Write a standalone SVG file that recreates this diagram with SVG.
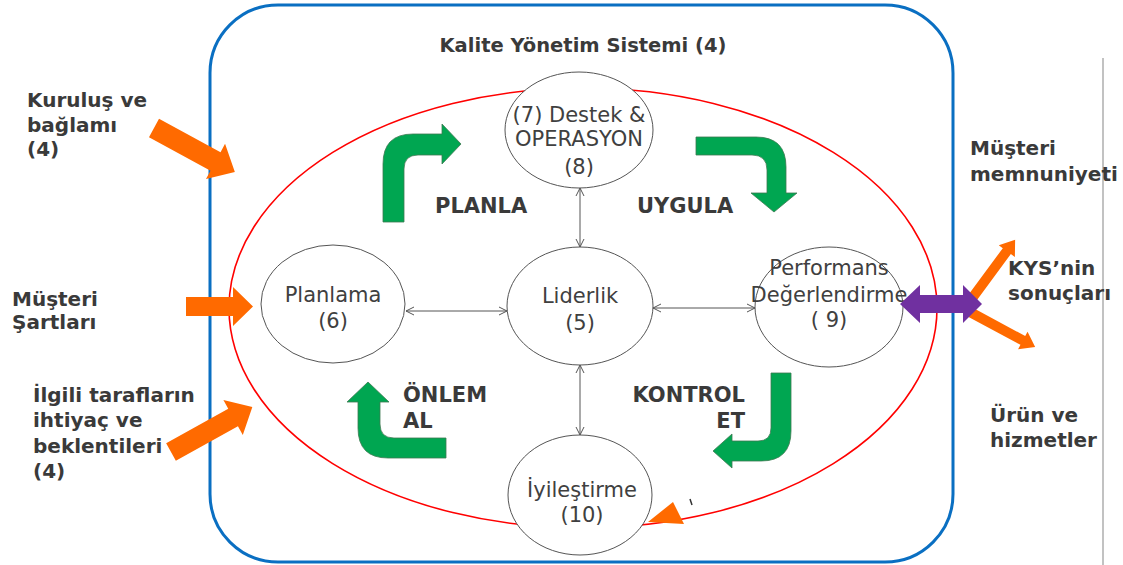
<svg xmlns="http://www.w3.org/2000/svg" width="1123" height="565" viewBox="0 0 1123 565">
<style>
.node{fill:#fff;stroke:#555;stroke-width:1}
.nt{font-family:"DejaVu Sans",sans-serif;font-size:21px;fill:#404040;text-anchor:middle}
.lbl{font-family:"DejaVu Sans",sans-serif;font-weight:bold;font-size:20px;fill:#3a3a3a}
.gl{font-family:"DejaVu Sans",sans-serif;font-weight:bold;font-size:21px;fill:#3a3a3a}
.conn{stroke:#555;stroke-width:1;fill:none;marker-start:url(#oa);marker-end:url(#oa)}
.green{fill:#00a651;stroke:#3d7a52;stroke-width:0.8}
.orange{fill:#ff6a00}
</style>
<defs>
<marker id="oa" viewBox="0 0 10 10" refX="9" refY="5" markerWidth="10" markerHeight="10" markerUnits="userSpaceOnUse" orient="auto-start-reverse">
<path d="M1,1 L9,5 L1,9" fill="none" stroke="#555" stroke-width="1"/>
</marker>
</defs>
<rect width="1123" height="565" fill="#fff"/>
<g id="frame">
<rect x="210" y="5" width="743" height="557" rx="68" ry="68" fill="none" stroke="#0a6fc2" stroke-width="3"/>
<text x="583" y="52" text-anchor="middle" font-family="DejaVu Sans, sans-serif" font-weight="bold" font-size="19.5" fill="#3a3a3a">Kalite Yönetim Sistemi (4)</text>
<ellipse cx="583" cy="308" rx="354" ry="220" fill="none" stroke="#ff0000" stroke-width="1.6"/>
<line x1="1103" y1="58" x2="1103" y2="565" stroke="#999" stroke-width="1.2"/>
</g>
<g id="inputs">
<polygon class="orange" points="0,-10.5 70,-10.5 70,-20 92,0 70,20 70,10.5 0,10.5" transform="translate(154,128) rotate(28.5)"/>
<polygon class="orange" points="186,297 233,297 233,287 253,306.5 233,326 233,316 186,316"/>
<polygon class="orange" points="0,-10 71,-10 71,-20 93,0 71,20 71,10 0,10" transform="translate(171,452) rotate(-29)"/>
<text class="lbl" x="27" y="107">Kuruluş ve</text>
<text class="lbl" x="27" y="132">bağlamı</text>
<text class="lbl" x="27" y="156">(4)</text>
<text class="lbl" x="12" y="306">Müşteri</text>
<text class="lbl" x="12" y="329">Şartları</text>
<text class="lbl" x="33" y="402">İlgili tarafların</text>
<text class="lbl" x="33" y="427">ihtiyaç ve</text>
<text class="lbl" x="33" y="453">beklentileri</text>
<text class="lbl" x="33" y="478">(4)</text>
</g>
<g id="outputs">
<polygon class="orange" points="0,-5 57,-5 57,-10 71,0 57,10 57,5 0,5" transform="translate(973,297) rotate(-53.6)"/>
<polygon class="orange" points="0,-5 60,-5 60,-10 74,0 60,10 60,5 0,5" transform="translate(970,312) rotate(28.3)"/>
<text class="lbl" x="970" y="155">Müşteri</text>
<text class="lbl" x="970" y="181">memnuniyeti</text>
<text class="lbl" x="1008" y="275">KYS’nin</text>
<text class="lbl" x="1008" y="300">sonuçları</text>
<text class="lbl" x="990" y="422">Ürün ve</text>
<text class="lbl" x="990" y="447">hizmetler</text>
</g>
<g id="connectors">
<line class="conn" x1="406" y1="311" x2="507" y2="311"/>
<line class="conn" x1="653" y1="308" x2="755" y2="308"/>
<line class="conn" x1="580" y1="188" x2="580" y2="247"/>
<line class="conn" x1="580" y1="365" x2="580" y2="435"/>
</g>
<g id="destek-operasyon">
<ellipse class="node" cx="579" cy="130" rx="74" ry="58"/>
<text class="nt" x="579" y="122">(7) Destek &amp;</text>
<text class="nt" x="579" y="146">OPERASYON</text>
<text class="nt" x="579" y="174">(8)</text>
</g>
<g id="liderlik">
<ellipse class="node" cx="580" cy="306" rx="73" ry="59"/>
<text class="nt" x="580" y="303">Liderlik</text>
<text class="nt" x="580" y="330">(5)</text>
</g>
<g id="planlama">
<ellipse class="node" cx="333" cy="304" rx="72" ry="59"/>
<text class="nt" x="333" y="302">Planlama</text>
<text class="nt" x="333" y="328">(6)</text>
</g>
<g id="performans">
<ellipse class="node" cx="829" cy="307" rx="74" ry="60"/>
<text class="nt" x="829" y="275">Performans</text>
<text class="nt" x="829" y="302">Değerlendirme</text>
<text class="nt" x="829" y="327">( 9)</text>
</g>
<g id="iyilestirme">
<ellipse class="node" cx="580" cy="495" rx="72" ry="60"/>
<text class="nt" x="582" y="497">İyileştirme</text>
<text class="nt" x="582" y="522">(10)</text>
<polygon class="orange" points="648,522 673,502 684,524"/>
<line x1="690" y1="499" x2="692" y2="505" stroke="#333" stroke-width="1.5"/>
</g>
<g id="cycle">
<path class="green" d="M383,222 L383,164 Q383,134 413,134 L442,134 L442,124 L461,144 L442,164 L442,155 L418,155 Q404,155 404,169 L404,222 Z"/>
<path class="green" d="M696,137 L756,137 Q786,137 786,167 L786,193 L797,193 L774,212 L751,193 L767,193 L767,170 Q767,155 752,155 L696,155 Z"/>
<path class="green" d="M771,373 L791,373 L791,431 Q791,461 761,461 L732,461 L732,468 L713,451 L732,434 L732,441 L758,441 Q771,441 771,428 Z"/>
<path class="green" d="M446,438 L446,458 L388,458 Q358,458 358,428 L358,402 L347,402 L368,382 L389,402 L380,402 L380,424 Q380,438 394,438 Z"/>
<text class="gl" x="435" y="213">PLANLA</text>
<text class="gl" x="637" y="213">UYGULA</text>
<text class="gl" x="403" y="402">ÖNLEM</text>
<text class="gl" x="403" y="428">AL</text>
<text class="gl" x="745" y="402" text-anchor="end">KONTROL</text>
<text class="gl" x="745" y="428" text-anchor="end">ET</text>
</g>
<g id="kys-results">
<polygon points="900,304 920,285 920,295 963,295 963,285 982,304 963,323 963,313 920,313 920,323" fill="#7030a0"/>
</g>
</svg>
